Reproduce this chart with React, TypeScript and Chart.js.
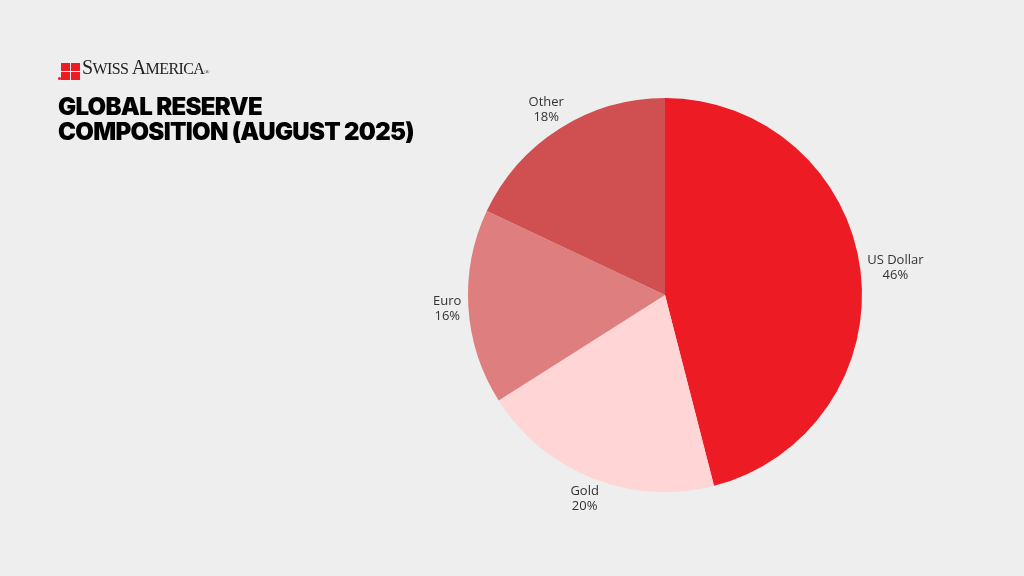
import React, { useEffect, useRef } from "react";
import { Chart, registerables } from "chart.js";

Chart.register(...registerables);

const categories = ["US Dollar", "Gold", "Euro", "Other"];
const shares = [46, 20, 16, 18];
const sliceColors = ["#ED1C24", "#FFD5D5", "#DE7E7E", "#D05052"];
const titleLines = ["GLOBAL RESERVE", "COMPOSITION (AUGUST 2025)"];

const outsideLabels = {
  id: "outsideLabels",
  afterDatasetsDraw(chart: any) {
    const ctx = chart.ctx;
    const meta = chart.getDatasetMeta(0);
    const data = chart.data.datasets[0].data as number[];
    ctx.save();
    ctx.font = "13px 'Open Sans', sans-serif";
    ctx.fillStyle = "#333333";
    ctx.textAlign = "center";
    ctx.textBaseline = "middle";
    const lineH = 15;
    meta.data.forEach((arc: any, i: number) => {
      const p = arc.getProps(["x", "y", "startAngle", "endAngle", "outerRadius"], true);
      const mid = (p.startAngle + p.endAngle) / 2;
      const dx = Math.cos(mid);
      const dy = Math.sin(mid);
      const l1 = String(chart.data.labels[i]);
      const l2 = data[i] + "%";
      const w = Math.max(ctx.measureText(l1).width, ctx.measureText(l2).width);
      const h = lineH * 2;
      const r = p.outerRadius + 7;
      const cx = p.x + dx * r + dx * w / 2;
      const cy = p.y + dy * r + dy * h / 2;
      ctx.fillText(l1, cx, cy - lineH / 2);
      ctx.fillText(l2, cx, cy + lineH / 2);
    });
    ctx.restore();
  },
};

export default function App() {
  const ref = useRef<HTMLCanvasElement>(null);
  useEffect(() => {
    document.body.style.margin = "0";
    const chart = new Chart(ref.current!, {
      type: "pie",
      data: {
        labels: categories,
        datasets: [
          {
            data: shares,
            backgroundColor: sliceColors,
            borderWidth: 0,
          },
        ],
      },
      options: {
        animation: false,
        responsive: false,
        layout: { padding: { top: 98, bottom: 84, left: 468, right: 162 } },
        plugins: {
          legend: { display: false },
          tooltip: { enabled: false },
        },
      },
      plugins: [outsideLabels],
    });
    return () => chart.destroy();
  }, []);

  return (
    <div style={{ position: "relative", width: 1024, height: 576, background: "#EEEEEE", overflow: "hidden" }}>
      <canvas ref={ref} width={1024} height={576} style={{ position: "absolute", left: 0, top: 0 }} />
      <div style={{ position: "absolute", left: 58, top: 58, display: "flex", alignItems: "flex-end" }}>
        <div style={{ width: 3, height: 3, borderRadius: 2, background: "#ED1C24", marginRight: 0, marginBottom: 1 }} />
        <div style={{ display: "grid", gridTemplateColumns: "9px 9px", gridTemplateRows: "8px 8px", gap: 1, marginRight: 2, marginBottom: 1 }}>
          <div style={{ background: "#ED1C24" }} />
          <div style={{ background: "#ED1C24" }} />
          <div style={{ background: "#ED1C24" }} />
          <div style={{ background: "#ED1C24" }} />
        </div>
        <div style={{ fontFamily: "'Liberation Serif', 'DejaVu Serif', serif", color: "#222", lineHeight: "18px", letterSpacing: -0.6 }}>
          <span style={{ fontSize: 20 }}>S</span>
          <span style={{ fontSize: 16 }}>WISS </span>
          <span style={{ fontSize: 20 }}>A</span>
          <span style={{ fontSize: 16 }}>MERICA</span>
          <span style={{ fontSize: 7 }}>®</span>
        </div>
      </div>
      <div
        style={{
          position: "absolute",
          left: 58,
          top: 94,
          fontFamily: "Inter, 'Noto Sans', sans-serif",
          fontWeight: 900,
          fontSize: 24,
          lineHeight: "25px",
          color: "#000",
          letterSpacing: -0.7,
        }}
      >
        {titleLines.map((t) => (
          <div key={t}>{t}</div>
        ))}
      </div>
    </div>
  );
}
